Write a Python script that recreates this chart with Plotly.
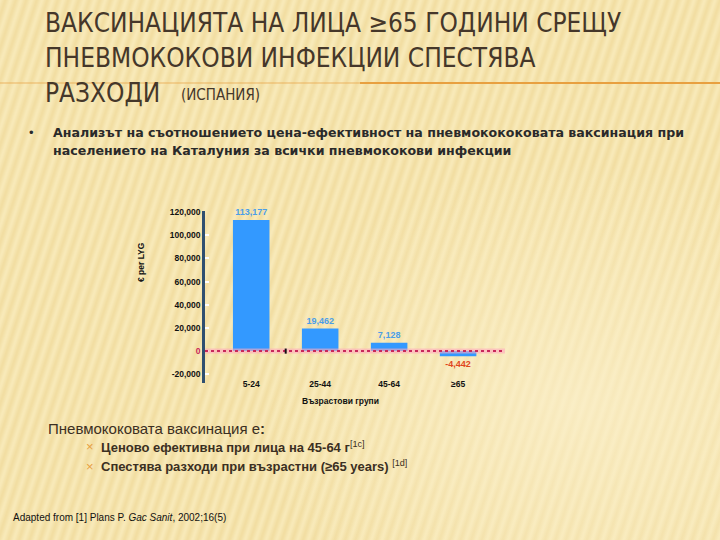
import base64
import plotly.graph_objects as go

# ---- data ----
age_groups = ["5-24", "25-44", "45-64", "≥65"]
cost_per_lyg = [113177, 19462, 7128, -4442]
label_colors = ["#4b9ee8", "#4b9ee8", "#4b9ee8", "#e0461c"]
y_tick_vals = [-20000, 0, 20000, 40000, 60000, 80000, 100000, 120000]
y_tick_text = ["-20,000", "<span style='color:#c8285a'>0</span>", "20,000", "40,000",
               "60,000", "80,000", "100,000", "120,000"]

title_lines = ["ВАКСИНАЦИЯТА НА ЛИЦА ≥65 ГОДИНИ СРЕЩУ",
               "ПНЕВМОКОКОВИ ИНФЕКЦИИ СПЕСТЯВА",
               "РАЗХОДИ"]
W, H = 720, 540


def py(px):
    return 1 - px / H


def pxx(px):
    return px / W


# subtle diagonal-striped background (decorative)
svg = f"""<svg xmlns='http://www.w3.org/2000/svg' width='{W}' height='{H}'>
<defs>
<linearGradient id='s' x1='0' x2='1' y1='0' y2='0'>
<stop offset='0' stop-color='#f0da9a' stop-opacity='0.0'/>
<stop offset='0.5' stop-color='#efd897' stop-opacity='0.75'/>
<stop offset='1' stop-color='#f0da9a' stop-opacity='0.0'/>
</linearGradient>
<pattern id='p' patternUnits='userSpaceOnUse' width='10' height='10' patternTransform='rotate(18)'>
<rect x='0' y='0' width='10' height='10' fill='url(#s)'/>
</pattern>
<radialGradient id='g' cx='0.8' cy='0.75' r='0.45'>
<stop offset='0' stop-color='#fbf0cc' stop-opacity='0.7'/>
<stop offset='1' stop-color='#fbf0cc' stop-opacity='0'/>
</radialGradient>
</defs>
<rect width='{W}' height='{H}' fill='#f8eaba'/>
<rect width='{W}' height='{H}' fill='url(#p)'/>
<rect width='{W}' height='{H}' fill='url(#g)'/>
</svg>"""
bg_src = "data:image/svg+xml;base64," + base64.b64encode(svg.encode()).decode()

fig = go.Figure()
fig.add_trace(go.Bar(
    x=age_groups, y=cost_per_lyg, width=0.53,
    marker=dict(color="#3399ff", line=dict(width=0)),
    texttemplate="%{y:,}", textposition="outside", constraintext="none",
    textfont=dict(color=label_colors, size=9, family="Arial, Liberation Sans, sans-serif", weight="bold"),
    cliponaxis=False, showlegend=False,
))

title_font = "DejaVu Sans Condensed, sans-serif"
ann = []
for i, t in enumerate(title_lines):
    ann.append(dict(text=t, x=pxx(43), y=py(23 + i * 35), xref="paper", yref="paper",
                    xanchor="left", yanchor="middle", showarrow=False,
                    font=dict(family=title_font, size=26, color="#45372a")))
ann.append(dict(text="(ИСПАНИЯ)", x=pxx(179), y=py(95), xref="paper", yref="paper",
                xanchor="left", yanchor="middle", showarrow=False,
                font=dict(family=title_font, size=15, color="#45372a")))
ann.append(dict(text="•", x=pxx(27), y=py(133), xref="paper", yref="paper",
                xanchor="left", yanchor="middle", showarrow=False,
                font=dict(family="Arial, sans-serif", size=13, color="#2a2a2a")))
body_font = "DejaVu Sans, Noto Sans, sans-serif"
ann.append(dict(text="<b>Анализът на съотношението цена-ефективност на пневмокококовата ваксинация при</b>",
                x=pxx(51), y=py(133), xref="paper", yref="paper", xanchor="left", yanchor="middle",
                showarrow=False, font=dict(family=body_font, size=12.6, color="#2a2a2a")))
ann.append(dict(text="<b>населението на Каталуния за всички пневмококови инфекции</b>",
                x=pxx(51), y=py(150), xref="paper", yref="paper", xanchor="left", yanchor="middle",
                showarrow=False, font=dict(family=body_font, size=12.6, color="#2a2a2a")))

# axis titles
ann.append(dict(text="<b>€ per LYG</b>", x=pxx(141), y=py(262), xref="paper", yref="paper",
                textangle=-90, xanchor="center", yanchor="middle", showarrow=False,
                font=dict(family="Arial, Liberation Sans, sans-serif", size=8.5, color="#111")))
ann.append(dict(text="<b>Възрастови групи</b>", x=pxx(300), y=py(401), xref="paper", yref="paper",
                xanchor="left", yanchor="middle", showarrow=False,
                font=dict(family="Arial, Liberation Sans, sans-serif", size=8.5, color="#111")))

# bottom texts
ann.append(dict(text="Пневмококовата ваксинация е<b>:</b>", x=pxx(46), y=py(428), xref="paper", yref="paper",
                xanchor="left", yanchor="middle", showarrow=False,
                font=dict(family="Arial, Liberation Sans, sans-serif", size=15, color="#3b2f22")))
for yy, t in [(447, "<b>Ценово ефективна при лица на 45-64 г</b><sup>[1c]</sup>"),
              (466, "<b>Спестява разходи при възрастни (≥65 years)</b> <sup>[1d]</sup>")]:
    ann.append(dict(text="×", x=pxx(84), y=py(yy), xref="paper", yref="paper",
                    xanchor="left", yanchor="middle", showarrow=False,
                    font=dict(family="Arial, sans-serif", size=13, color="#e8a040")))
    ann.append(dict(text=t, x=pxx(99), y=py(yy), xref="paper", yref="paper",
                    xanchor="left", yanchor="middle", showarrow=False,
                    font=dict(family="Arial, Liberation Sans, sans-serif", size=13, color="#3b2f22")))
ann.append(dict(text="Adapted from [1] Plans P. <i>Gac Sanit</i>, 2002;16(5)", x=pxx(11), y=py(517),
                xref="paper", yref="paper", xanchor="left", yanchor="middle", showarrow=False,
                font=dict(family="Arial, Liberation Sans, sans-serif", size=10, color="#111")))

shapes = [
    # title rule
    dict(type="line", xref="paper", yref="paper", x0=0, x1=0.5, y0=py(83), y1=py(83),
         line=dict(color="#e8a040", width=2), opacity=0.35),
    dict(type="line", xref="paper", yref="paper", x0=0.5, x1=1, y0=py(83), y1=py(83),
         line=dict(color="#e8a040", width=2)),
    # zero line halo + dotted line
    dict(type="line", xref="x domain", yref="y", x0=0, x1=1, y0=0, y1=0,
         line=dict(color="rgba(255,170,190,0.6)", width=5), layer="above"),
    dict(type="line", xref="x domain", yref="y", x0=0, x1=1, y0=0, y1=0,
         line=dict(color="#c8285a", width=2, dash="dot"), layer="above"),
    # category separator tick
    dict(type="line", xref="x", yref="y", x0=0.5, x1=0.5, y0=-2200, y1=2200,
         line=dict(color="#111", width=2), layer="above"),
]

fig.update_layout(
    width=W, height=H, autosize=False,
    margin=dict(l=0, r=0, t=0, b=0, pad=0),
    paper_bgcolor="#f7e8b6", plot_bgcolor="rgba(0,0,0,0)",
    annotations=ann, shapes=shapes,
    images=[dict(source=bg_src, xref="paper", yref="paper", x=0, y=1, sizex=1, sizey=1,
                 xanchor="left", yanchor="top", sizing="stretch", layer="below")],
    xaxis=dict(type="category", categoryorder="array", categoryarray=age_groups,
               range=[-0.67, 3.68], domain=[pxx(205), pxx(505)], automargin=False,
               showline=False, showgrid=False, zeroline=False, ticks="",
               ticklabelstandoff=-6,
               tickfont=dict(family="Arial, Liberation Sans, sans-serif", size=8.5, color="#111", weight="bold")),
    yaxis=dict(range=[-27500, 120500], domain=[py(383), py(211.4)], automargin=False,
               tickvals=y_tick_vals, ticktext=y_tick_text,
               showline=True, linecolor="#2f4f70", linewidth=2.5,
               ticks="inside", tickcolor="white", ticklen=4, tickwidth=1.5,
               showgrid=False, zeroline=False,
               tickfont=dict(family="Arial, Liberation Sans, sans-serif", size=8.5, color="#111", weight="bold")),
)

fig.write_html("out.html", config={"displayModeBar": False},
               post_script="document.body.style.margin='0';document.body.style.background='#f7e8b6';")
